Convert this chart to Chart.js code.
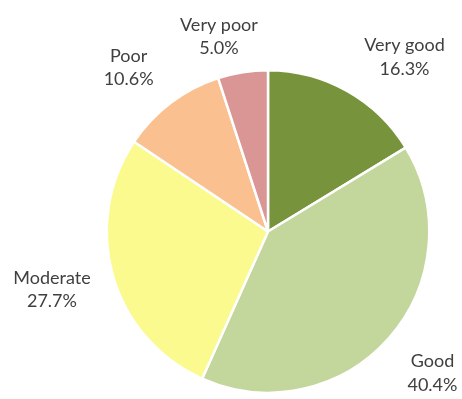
<!DOCTYPE html>
<html>
<head>
<meta charset="utf-8">
<script src="https://cdn.jsdelivr.net/npm/chart.js@4"></script>
<style>
  html, body { margin: 0; padding: 0; background: #fff; }
  #pieChart { display: block; }
</style>
</head>
<body>
<canvas id="pieChart" width="462" height="399"></canvas>
<script>
// categorias y porcentajes
const categorias = ['Very good', 'Good', 'Moderate', 'Poor', 'Very poor'];
const porcentajes = [16.3, 40.4, 27.7, 10.6, 5.0];

const colores = ['#77933c', '#c3d69b', '#fbfa8e', '#fac090', '#d99694'];

// desplazamiento fino de cada etiqueta respecto a su posicion radial
const ajusteEtiquetas = [[33, 9], [6, 1], [-13, -1], [-12, 4], [-16, 13]];

// dibuja "nombre / porcentaje" fuera de cada sector
const etiquetasFuera = {
  id: 'etiquetasFuera',
  afterDatasetsDraw(chart) {
    const ctx = chart.ctx;
    const meta = chart.getDatasetMeta(0);
    ctx.save();
    ctx.font = '18px Lato, "Open Sans", sans-serif';
    ctx.fillStyle = '#404040';
    ctx.textAlign = 'center';
    ctx.textBaseline = 'alphabetic';
    meta.data.forEach((arc, i) => {
      const { x, y, startAngle, endAngle, outerRadius } = arc.getProps(['x', 'y', 'startAngle', 'endAngle', 'outerRadius'], true);
      const medio = (startAngle + endAngle) / 2;
      const d = outerRadius + 50;
      const cx = x + Math.cos(medio) * d + ajusteEtiquetas[i][0];
      const cy = y + Math.sin(medio) * d + ajusteEtiquetas[i][1];
      ctx.fillText(categorias[i], cx, cy - 5);
      ctx.fillText(porcentajes[i].toFixed(1) + '%', cx, cy + 18.5);
    });
    ctx.restore();
  }
};

new Chart(document.getElementById('pieChart').getContext('2d'), {
  type: 'pie',
  data: {
    labels: categorias,
    datasets: [{
      data: porcentajes,
      backgroundColor: colores,
      borderColor: '#ffffff',
      borderWidth: 2.5
    }]
  },
  options: {
    responsive: false,
    animation: false,
    layout: { padding: { left: 105, right: 31, top: 69, bottom: 5 } },
    plugins: {
      legend: { display: false },
      tooltip: { enabled: false }
    }
  },
  plugins: [etiquetasFuera]
});
</script>
</body>
</html>
